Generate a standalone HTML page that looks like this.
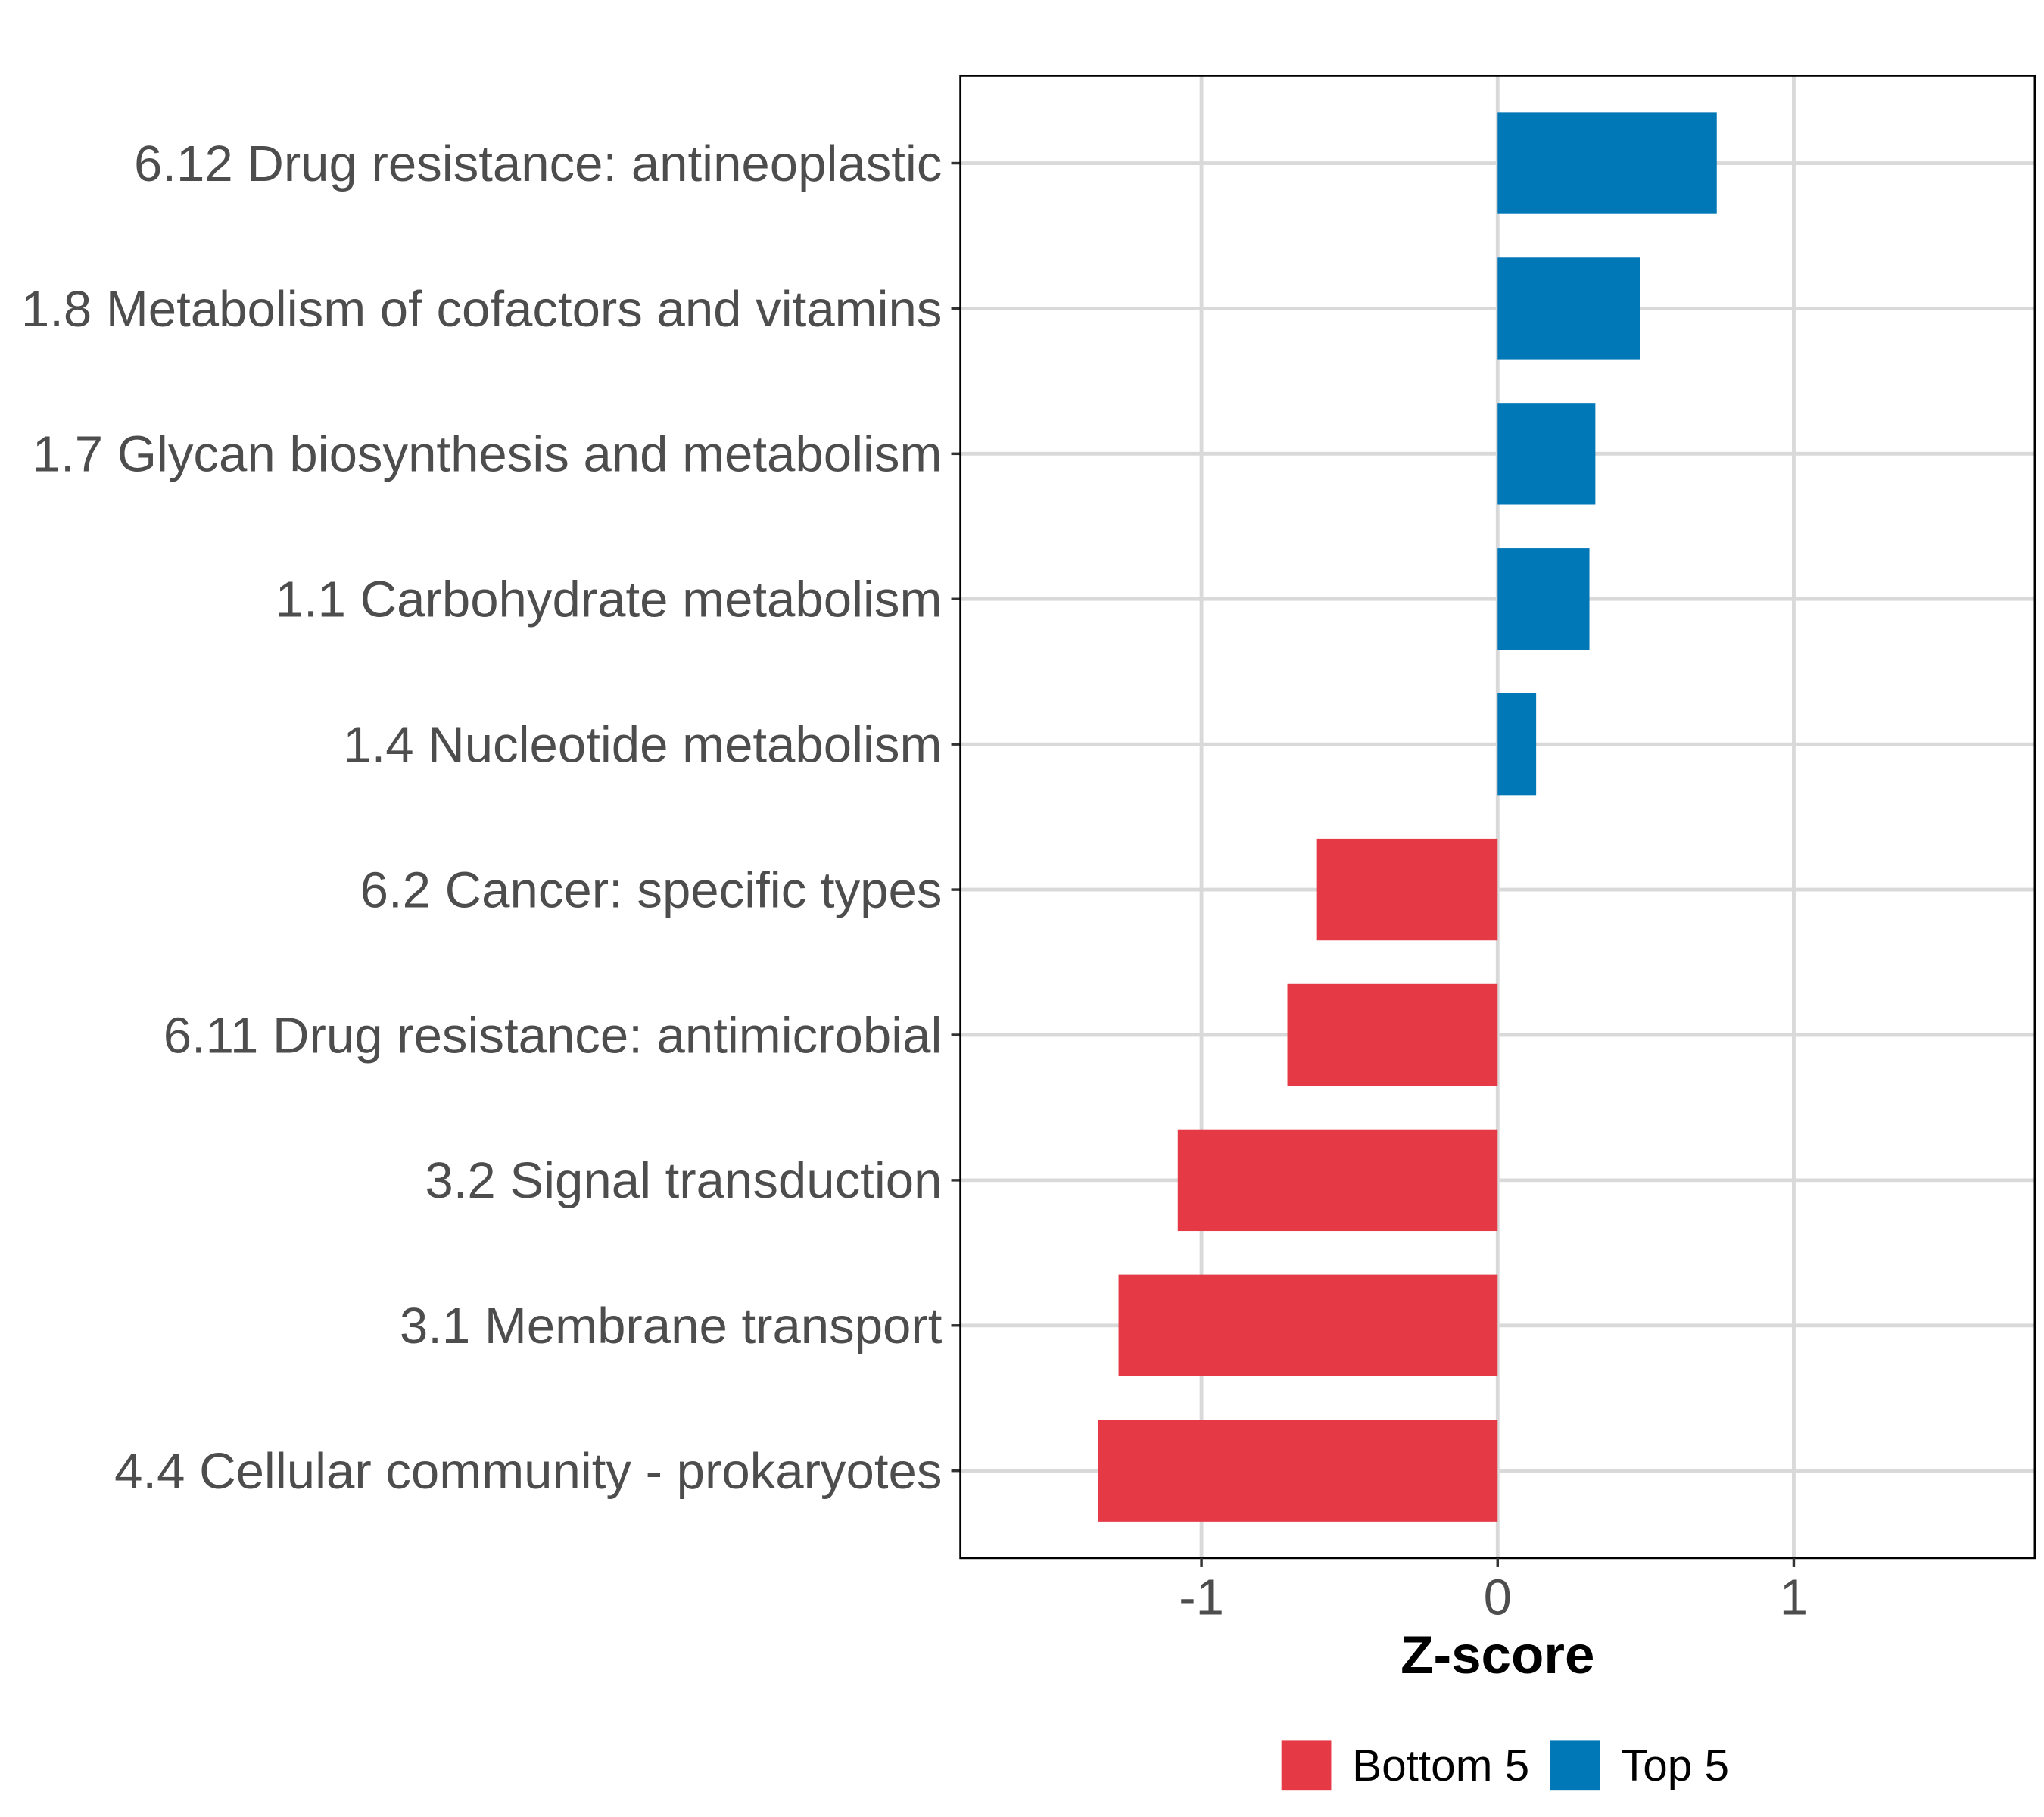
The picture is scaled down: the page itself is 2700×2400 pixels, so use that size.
<!DOCTYPE html>
<html><head><meta charset="utf-8"><style>
html,body{margin:0;padding:0;background:#fff;}
svg{display:block;}
</style></head><body>
<svg id="chart" width="2700" height="2400" viewBox="0 0 1560 1386.7" preserveAspectRatio="none" xmlns="http://www.w3.org/2000/svg" font-family="Liberation Sans, Arial, sans-serif"></svg>
<script>
const categories = ["6.12 Drug resistance: antineoplastic","1.8 Metabolism of cofactors and vitamins","1.7 Glycan biosynthesis and metabolism","1.1 Carbohydrate metabolism","1.4 Nucleotide metabolism","6.2 Cancer: specific types","6.11 Drug resistance: antimicrobial","3.2 Signal transduction","3.1 Membrane transport","4.4 Cellular community - prokaryotes"];
const zscores = [0.74,0.48,0.33,0.31,0.13,-0.61,-0.71,-1.08,-1.28,-1.35];
const groups = ["Top 5","Top 5","Top 5","Top 5","Top 5","Bottom 5","Bottom 5","Bottom 5","Bottom 5","Bottom 5"];
const xTicks = [-1,0,1];
const xTickLabels = ["-1","0","1"];
const legendLabels = ["Bottom 5","Top 5"];

const colors = {"Top 5":"#0077b6","Bottom 5":"#e63946"};
const svg = document.getElementById('chart');
const NS = "http://www.w3.org/2000/svg";
const P = {l:733,r:1553,t:58,b:1189};
const xMin=-1.814, xMax=1.814;
const x = v => P.l + (v-xMin)/(xMax-xMin)*(P.r-P.l);
const step = (P.b-P.t)/(categories.length+0.2);
const y = i => P.t + step*(i+0.6);
const barH = step*0.7;
function mk(tag, attrs, text){
  const e=document.createElementNS(NS,tag);
  for(const k in attrs) e.setAttribute(k,attrs[k]);
  if(text!==undefined) e.textContent=text;
  svg.appendChild(e); return e;
}
xTicks.forEach((t,i)=>{
  const g=mk('line',{x1:x(t),x2:x(t),y1:P.t,y2:P.b,stroke:'#d9d9d9','stroke-width':2.8});
  
  
});
categories.forEach((c,i)=>{
  const g=mk('line',{x1:P.l,x2:P.r,y1:y(i),y2:y(i),stroke:'#d9d9d9','stroke-width':2.8});
  
  
});
categories.forEach((c,i)=>{
  const v=zscores[i];
  const b=mk('rect',{x:Math.min(x(0),x(v)),y:y(i)-barH/2,width:Math.abs(x(v)-x(0)),height:barH,fill:colors[groups[i]]});
  
  
  const tk=mk('line',{x1:P.l-7,x2:P.l,y1:y(i),y2:y(i),stroke:'#333','stroke-width':2});
  
  
  const t=mk('text',{x:719,y:y(i)+13.5,'text-anchor':'end','font-size':38.8,fill:'#4d4d4d'},c);
  
  
});
const border=mk('rect',{x:P.l,y:P.t,width:P.r-P.l,height:P.b-P.t,fill:'none',stroke:'#000','stroke-width':1.6});


xTicks.forEach((t,i)=>{
  const tk=mk('line',{x1:x(t),x2:x(t),y1:P.b,y2:P.b+7,stroke:'#333','stroke-width':2});
  
  
  const l=mk('text',{x:x(t),y:1232,'text-anchor':'middle','font-size':38.8,fill:'#4d4d4d'},xTickLabels[i]);
  
  
});
const title=mk('text',{x:x(0),y:1277,'text-anchor':'middle','font-size':41,'font-weight':'bold',fill:'#000'},'Z-score');


const lx=[978,1183];
legendLabels.forEach((lab,i)=>{
  const r=mk('rect',{x:lx[i],y:1328,width:38,height:38,fill:colors[lab]});
  
  
  const t=mk('text',{x:lx[i]+54,y:1359,'font-size':33.8,fill:'#000'},lab);
  
  
});
</script>
</body></html>
